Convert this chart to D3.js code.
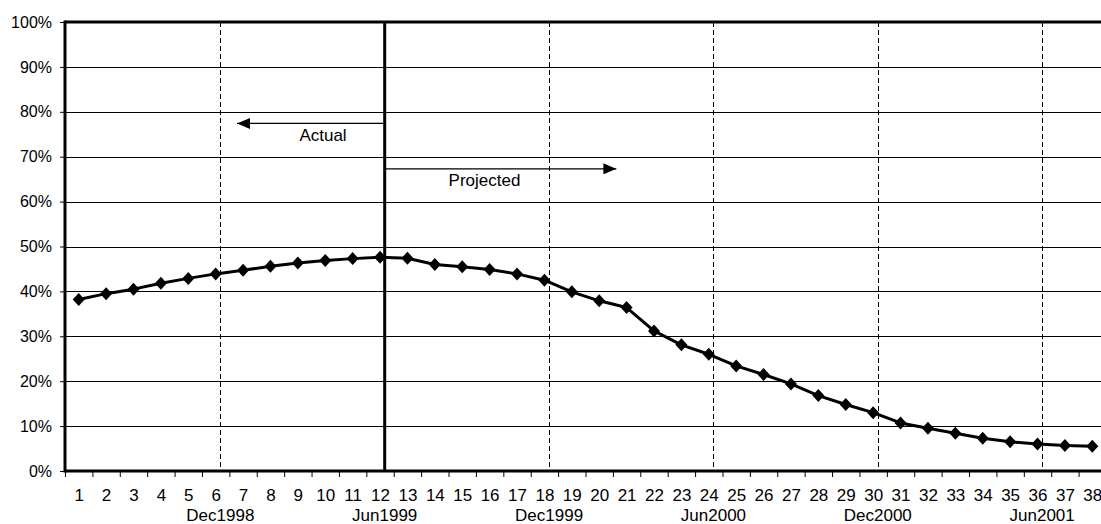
<!DOCTYPE html>
<html>
<head>
<meta charset="utf-8">
<script src="https://cdn.jsdelivr.net/npm/d3@7"></script>
<style>
  html, body { margin: 0; padding: 0; background: #fff; overflow: hidden; }
  svg { display: block; font-family: "Liberation Sans", Arial, sans-serif; }
</style>
</head>
<body>
<svg id="chart" width="1101" height="524"></svg>
<script>
// Month index along the x axis
const months = d3.range(1, 39);
// Share per month (%): months 1-12 actual, 13-38 projected
const share = [
  38.2, 39.5, 40.5, 41.8, 42.9, 43.9, 44.7, 45.6, 46.3, 46.9,
  47.3, 47.6, 47.4, 46.0, 45.5, 44.9, 43.9, 42.5, 39.9, 37.9,
  36.4, 31.2, 28.1, 26.0, 23.4, 21.5, 19.4, 16.8, 14.8, 13.0,
  10.7, 9.5, 8.4, 7.3, 6.5, 6.0, 5.7, 5.5
];
// Y axis ticks (%)
const yTicks = d3.range(0, 101, 10);
// Calendar markers every six months
const markerMonths = [6, 12, 18, 24, 30, 36];
const markerLabels = ["Dec1998", "Jun1999", "Dec1999", "Jun2000", "Dec2000", "Jun2001"];
// Boundary between actual and projected
const splitMonth = 12;
const annotations = ["Actual", "Projected"];

(function draw() {
  const svg = d3.select("#chart");
  const plotLeft = 65, plotTop = 22, plotBottom = 471, plotRight = 1106;
  const font = "Liberation Sans, Arial, sans-serif";

  const x = d3.scaleLinear().domain([0.5, 38.5]).range([plotLeft, plotRight]);
  const y = d3.scaleLinear().domain([0, 100]).range([plotBottom, plotTop]);
  const markerOffset = 0.17; // calendar lines sit slightly after the month centre

  // Horizontal gridlines
  svg.append("g")
    .selectAll("line")
    .data(yTicks.filter(d => d > 0 && d < 100))
    .join("line")
    .attr("x1", plotLeft).attr("x2", plotRight)
    .attr("y1", d => Math.round(y(d)) + 0.5).attr("y2", d => Math.round(y(d)) + 0.5)
    .attr("stroke", "#000").attr("stroke-width", 1);

  // Dashed calendar lines
  svg.append("g")
    .selectAll("line")
    .data(markerMonths.filter(m => m !== splitMonth))
    .join("line")
    .attr("x1", d => Math.round(x(d + markerOffset)) + 0.5)
    .attr("x2", d => Math.round(x(d + markerOffset)) + 0.5)
    .attr("y1", plotTop).attr("y2", plotBottom)
    .attr("stroke", "#000").attr("stroke-width", 1)
    .attr("stroke-dasharray", "5,3");

  // Solid split line between actual and projected
  const splitX = x(splitMonth + markerOffset);
  svg.append("line")
    .attr("x1", splitX).attr("x2", splitX)
    .attr("y1", plotTop).attr("y2", plotBottom)
    .attr("stroke", "#000").attr("stroke-width", 3);

  // Y axis
  const yAxis = svg.append("g")
    .attr("transform", `translate(${plotLeft},0)`)
    .call(d3.axisLeft(y).tickValues(yTicks).tickFormat(d => d + "%").tickSize(5).tickPadding(8));
  yAxis.select(".domain").remove();
  yAxis.selectAll(".tick line").attr("stroke", "#000");
  yAxis.selectAll("text").attr("font-size", 16).attr("fill", "#000").attr("font-family", font);

  // X axis tick marks at month boundaries
  const xTickAxis = svg.append("g")
    .attr("transform", `translate(0,${plotBottom})`)
    .call(d3.axisBottom(x).tickValues(d3.range(0.5, 39, 1)).tickFormat("").tickSize(6));
  xTickAxis.select(".domain").remove();
  xTickAxis.selectAll(".tick line").attr("stroke", "#000");

  // X axis month numbers
  const xLabelAxis = svg.append("g")
    .attr("transform", `translate(0,${plotBottom})`)
    .call(d3.axisBottom(x).tickValues(months).tickFormat(d3.format("d")).tickSize(0).tickPadding(17.5));
  xLabelAxis.select(".domain").remove();
  xLabelAxis.selectAll("text").attr("font-size", 17).attr("fill", "#000").attr("font-family", font);

  // Calendar labels under the month numbers
  svg.append("g")
    .selectAll("text")
    .data(markerMonths)
    .join("text")
    .attr("x", d => x(d + markerOffset))
    .attr("y", 521)
    .attr("text-anchor", "middle")
    .attr("font-size", 17)
    .attr("fill", "#000")
    .text((d, i) => markerLabels[i]);

  // Frame: thick left axis, top border and baseline
  svg.append("line").attr("x1", plotLeft).attr("x2", plotLeft).attr("y1", plotTop - 1.5).attr("y2", plotBottom + 1.5)
    .attr("stroke", "#000").attr("stroke-width", 3);
  svg.append("line").attr("x1", plotLeft).attr("x2", 1101).attr("y1", plotTop).attr("y2", plotTop)
    .attr("stroke", "#000").attr("stroke-width", 3);
  svg.append("line").attr("x1", plotLeft).attr("x2", 1101).attr("y1", plotBottom).attr("y2", plotBottom)
    .attr("stroke", "#000").attr("stroke-width", 3);

  // Arrow annotations
  const defs = svg.append("defs");
  defs.append("marker")
    .attr("id", "head")
    .attr("viewBox", "0 0 13 11")
    .attr("refX", 13).attr("refY", 5.5)
    .attr("markerWidth", 13).attr("markerHeight", 11)
    .attr("markerUnits", "userSpaceOnUse")
    .attr("orient", "auto")
    .append("path").attr("d", "M0,0 L13,5.5 L0,11 Z").attr("fill", "#000");

  const actualY = y(77.4), projY = y(67.3);
  svg.append("line")
    .attr("x1", splitX).attr("x2", x(7) - 6)
    .attr("y1", actualY).attr("y2", actualY)
    .attr("stroke", "#000").attr("stroke-width", 1.3)
    .attr("marker-end", "url(#head)");
  svg.append("line")
    .attr("x1", splitX).attr("x2", x(20.5) + 3.5)
    .attr("y1", projY).attr("y2", projY)
    .attr("stroke", "#000").attr("stroke-width", 1.3)
    .attr("marker-end", "url(#head)");
  svg.append("text").attr("x", 323).attr("y", actualY + 17.5)
    .attr("text-anchor", "middle").attr("font-size", 17).attr("fill", "#000").text(annotations[0]);
  svg.append("text").attr("x", 484.5).attr("y", projY + 17.5)
    .attr("text-anchor", "middle").attr("font-size", 17).attr("fill", "#000").text(annotations[1]);

  // Share series line and diamond markers
  const line = d3.line().x((d, i) => x(months[i])).y(d => y(d));
  svg.append("path")
    .datum(share)
    .attr("d", line)
    .attr("fill", "none")
    .attr("stroke", "#000")
    .attr("stroke-width", 3)
    .attr("stroke-linejoin", "round");

  svg.append("g")
    .selectAll("path")
    .data(share)
    .join("path")
    .attr("transform", (d, i) => `translate(${x(months[i])},${y(d)})`)
    .attr("d", "M0,-6.5 L6,0 L0,6.5 L-6,0 Z")
    .attr("fill", "#000");
})();
</script>
</body>
</html>
